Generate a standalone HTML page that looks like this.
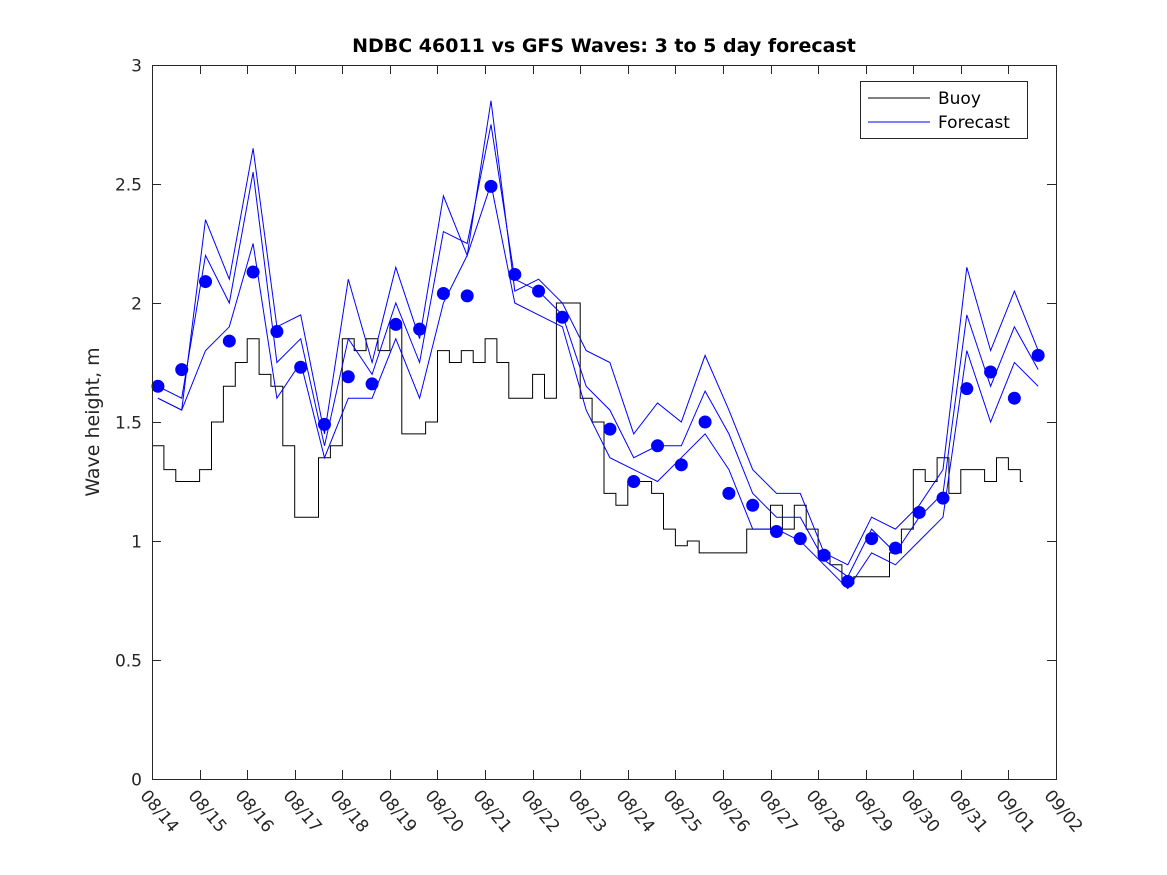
<!DOCTYPE html>
<html><head><meta charset="utf-8"><style>
body{margin:0;background:#fff}
svg{display:block;font-family:"DejaVu Sans","Liberation Sans",sans-serif}
</style></head><body>
<svg id="chart" width="1167" height="875">
<text x="604" y="52" text-anchor="middle" font-size="19" font-weight="bold" fill="#000">NDBC 46011 vs GFS Waves: 3 to 5 day forecast</text>
<text transform="translate(99,422) rotate(-90)" text-anchor="middle" font-size="19" fill="#262626">Wave height, m</text>
<g id="axes"></g>
<g id="marks"></g>
<rect x="152.5" y="65.5" width="904" height="714" fill="none" stroke="#262626" stroke-width="1"/>
<g>
<rect x="860.5" y="81.5" width="167" height="57" fill="#fff" stroke="#262626"/>
<line x1="868" y1="98" x2="930" y2="98" stroke="#000"/>
<text x="938" y="104" font-size="17" fill="#000">Buoy</text>
<line x1="868" y1="122" x2="930" y2="122" stroke="#0000ff"/>
<text x="938" y="128" font-size="17" fill="#000">Forecast</text>
</g>
</svg>
<script>
const xTickLabels=["08/14","08/15","08/16","08/17","08/18","08/19","08/20","08/21","08/22","08/23","08/24","08/25","08/26","08/27","08/28","08/29","08/30","08/31","09/01","09/02"];
const yTicks=[0,0.5,1,1.5,2,2.5,3];
const yTickLabels=["0","0.5","1","1.5","2","2.5","3"];
const buoy=[1.4,1.3,1.25,1.25,1.3,1.5,1.65,1.75,1.85,1.7,1.65,1.4,1.1,1.1,1.35,1.4,1.85,1.8,1.85,1.8,1.9,1.45,1.45,1.5,1.8,1.75,1.8,1.75,1.85,1.75,1.6,1.6,1.7,1.6,2.0,2.0,1.6,1.5,1.2,1.15,1.25,1.25,1.2,1.05,0.98,1.0,0.95,0.95,0.95,0.95,1.05,1.05,1.15,1.05,1.15,1.05,0.95,0.9,0.82,0.85,0.85,0.85,0.95,1.05,1.3,1.25,1.35,1.2,1.3,1.3,1.25,1.35,1.3,1.25];
const dots=[1.65,1.72,2.09,1.84,2.13,1.88,1.73,1.49,1.69,1.66,1.91,1.89,2.04,2.03,2.49,2.12,2.05,1.94,null,1.47,1.25,1.40,1.32,1.50,1.20,1.15,1.04,1.01,0.94,0.83,1.01,0.97,1.12,1.18,1.64,1.71,1.60,1.78];
const fcUpper=[1.6,1.55,2.35,2.1,2.65,1.9,1.95,1.45,2.1,1.75,2.15,1.85,2.45,2.2,2.85,2.05,2.1,2.0,1.8,1.75,1.45,1.58,1.5,1.78,1.55,1.3,1.2,1.2,0.95,0.9,1.1,1.05,1.15,1.3,2.15,1.8,2.05,1.8];
const fcLower=[1.6,1.55,1.8,1.9,2.25,1.6,1.75,1.35,1.6,1.6,1.85,1.6,2.0,2.2,2.5,2.0,1.95,1.9,1.55,1.35,1.3,1.25,1.35,1.45,1.3,1.05,1.05,1.0,0.9,0.8,0.95,0.9,1.0,1.1,1.8,1.5,1.75,1.65];
const fcMid=[1.65,1.6,2.2,2.0,2.55,1.75,1.85,1.4,1.85,1.7,2.0,1.75,2.3,2.25,2.75,2.1,2.05,1.95,1.65,1.55,1.35,1.4,1.4,1.63,1.45,1.2,1.1,1.1,0.92,0.85,1.05,0.95,1.1,1.2,1.95,1.65,1.9,1.72];

const NS="http://www.w3.org/2000/svg";
const X=d=>152+d*(904/19);
const Y=v=>779-v*238;
const axes=document.getElementById('axes'), marks=document.getElementById('marks');
function mk(tag,attrs,parent){const e=document.createElementNS(NS,tag);for(const k in attrs)e.setAttribute(k,attrs[k]);parent.appendChild(e);return e;}

yTicks.forEach((v,i)=>{
  const y=Math.round(Y(v))+0.5;
  const t1=mk('line',{x1:152,y1:y,x2:161,y2:y,stroke:'#262626'},axes);
  
  
  const t2=mk('line',{x1:1047,y1:y,x2:1056,y2:y,stroke:'#262626'},axes);
  
  
  const tx=mk('text',{x:142,y:y+6,'text-anchor':'end','font-size':17,fill:'#262626'},axes);
  tx.textContent=yTickLabels[i];
  
  
});
xTickLabels.forEach((lab,i)=>{
  const x=Math.round(X(i))+0.5;
  const t1=mk('line',{x1:x,y1:770,x2:x,y2:779,stroke:'#262626'},axes);
  
  
  const t2=mk('line',{x1:x,y1:65,x2:x,y2:74,stroke:'#262626'},axes);
  
  
  const tx=mk('text',{transform:`translate(${x-13},${796}) rotate(50)`,'font-size':17,fill:'#262626'},axes);
  tx.textContent=lab;
  
  
});

// buoy step line (6-hourly)
let p='';
buoy.forEach((v,i)=>{const x0=X(i*0.25),x1=X(Math.min((i+1)*0.25,18.3)),y=Y(v);p+=(i?'L':'M')+x0.toFixed(1)+','+y.toFixed(1)+'L'+x1.toFixed(1)+','+y.toFixed(1);});
const bl=mk('path',{d:p,fill:'none',stroke:'#000','stroke-width':1},marks);



function fline(arr,name){
  let d='';arr.forEach((v,i)=>{d+=(i?'L':'M')+X(0.125+i*0.5).toFixed(1)+','+Y(v).toFixed(1);});
  const l=mk('path',{d:d,fill:'none',stroke:'#0000ff','stroke-width':1},marks);
  
  
}
fline(fcUpper,'forecast-line-upper');
fline(fcMid,'forecast-line-mid');
fline(fcLower,'forecast-line-lower');

dots.forEach((v,i)=>{
  if(v===null)return;
  const c=mk('circle',{cx:X(0.125+i*0.5),cy:Y(v),r:6.5,fill:'#0000ff'},marks);
  
  
});
</script>
</body></html>
